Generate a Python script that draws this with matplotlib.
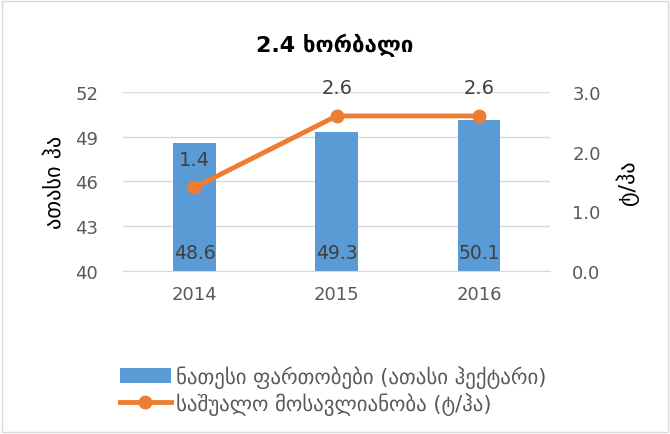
import numpy as np
import matplotlib.pyplot as plt
from matplotlib.patches import Rectangle

plt.rcParams['font.family'] = ['DejaVu Sans']

years = ['2014', '2015', '2016']
area = [48.6, 49.3, 50.1]
yield_ = [1.4, 2.6, 2.6]
area_ticks = [40, 43, 46, 49, 52]
yield_ticks = [0.0, 1.0, 2.0, 3.0]

blue = '#5B9BD5'
orange = '#ED7D31'
grey = '#595959'

fig = plt.figure(figsize=(6.7, 4.35), dpi=100)
ax = fig.add_axes([0.184, 0.375, 0.637, 0.411])
x = np.arange(len(years))

ax.bar(x, area, width=0.3, color=blue, zorder=2, label='ნათესი ფართობები (ათასი ჰექტარი)')
ax.set_ylim(40, 52)
ax.set_yticks(area_ticks)
ax.set_xlim(-0.5, 2.5)
ax.set_xticks(x)
ax.set_xticklabels(years)
ax.grid(axis='y', color='#D9D9D9', linewidth=1, zorder=0)
for s in ['top', 'right', 'left']:
    ax.spines[s].set_visible(False)
ax.spines['bottom'].set_color('#D9D9D9')
ax.tick_params(length=0, labelsize=13, labelcolor=grey)
ax.tick_params(axis='x', pad=10)
ax.tick_params(axis='y', pad=18)
ax.set_ylabel('ათასი ჰა', fontsize=16, labelpad=8)
for xi, v in zip(x, area):
    ax.text(xi, 41.2, f'{v:.1f}', ha='center', va='center', fontsize=13.5, color='#404040', zorder=4)

ax2 = ax.twinx()
ax2.plot(x, yield_, color=orange, linewidth=3.5, marker='o', markersize=9,
         label='საშუალო მოსავლიანობა (ტ/ჰა)', zorder=3)
ax2.set_ylim(0, 3)
ax2.set_yticks(yield_ticks)
ax2.set_yticklabels([f'{t:.1f}' for t in yield_ticks])
for s in ['top', 'right', 'left', 'bottom']:
    ax2.spines[s].set_visible(False)
ax2.tick_params(length=0, labelsize=13, labelcolor=grey, pad=16)
ax2.set_ylabel('ტ/ჰა', fontsize=16, labelpad=11, rotation=90)
for xi, v in zip(x, yield_):
    ax2.text(xi, v + 0.47, f'{v:.1f}', ha='center', va='center', fontsize=14, color='#404040')

fig.text(0.5, 0.895, '2.4 ხორბალი', ha='center', va='center', fontsize=16, fontweight='bold')

h1, l1 = ax.get_legend_handles_labels()
h2, l2 = ax2.get_legend_handles_labels()
fig.legend(h1 + h2, l1 + l2, loc='upper left', bbox_to_anchor=(0.166, 0.178),
           frameon=False, fontsize=15, labelcolor=grey, handlelength=2.45,
           handletextpad=0.25, labelspacing=0.2, borderaxespad=0)

fig.patches.append(Rectangle((0.003, 0.005), 0.994, 0.99, transform=fig.transFigure,
                             fill=False, edgecolor='#D9D9D9', linewidth=1))

fig.savefig('out.png', dpi=100)
